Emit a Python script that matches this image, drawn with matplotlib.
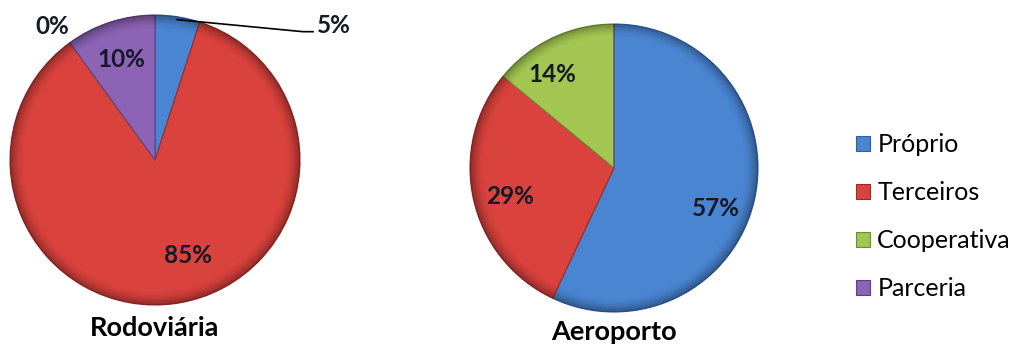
import matplotlib.pyplot as plt
import numpy as np
from matplotlib.patches import Circle

plt.rcParams['font.family'] = ['Lato', 'DejaVu Sans']

categories = ['Próprio', 'Terceiros', 'Cooperativa', 'Parceria']
colors = ['#4a85d2', '#da423d', '#a3c653', '#8d63b5']
edge_colors = ['#2f5f9e', '#9e2a27', '#6f8c32', '#5f3f80']

rodoviaria = [5, 85, 0, 10]
aeroporto = [57, 29, 14, 0]

W, H = 1013, 344
fig = plt.figure(figsize=(W / 100, H / 100), dpi=100)


def pie_axes(cx, cy, r):
    # axes whose data units are one pie radius, placed by pixel centre
    ax = fig.add_axes([(cx - r) / W, (H - cy - r) / H, 2 * r / W, 2 * r / H])
    ax.axis('off')
    return ax


def draw_pie(ax, values, label_pos):
    wedges, _ = ax.pie(values, colors=colors, startangle=90, counterclock=False,
                       radius=1, wedgeprops=dict(linewidth=0.8))
    for w, ec in zip(wedges, edge_colors):
        w.set_edgecolor(ec)
    # darker rim for the bevelled look
    n = 400
    xx, yy = np.meshgrid(np.linspace(-1, 1, n), np.linspace(-1, 1, n))
    rr = np.hypot(xx, yy)
    shade = np.zeros((n, n, 4))
    shade[..., 3] = np.clip((rr - 0.9) / 0.1, 0, 1) ** 1.8 * 0.35
    im = ax.imshow(shade, extent=(-1, 1, -1, 1), origin='lower', zorder=3,
                   interpolation='bilinear')
    im.set_clip_path(Circle((0, 0), 1, transform=ax.transData))
    ax.set_xlim(-1, 1)
    ax.set_ylim(-1, 1)
    ax.set_aspect('equal')
    for v, pos in zip(values, label_pos):
        if pos is None:
            continue
        ax.text(pos[0], pos[1], f'{v}%', ha='center', va='center',
                fontsize=17.5, fontweight='bold', color='#131a26', zorder=5,
                clip_on=False)


# label positions in pie-radius units
rod_labels = [(1.23, 0.93), (0.23, -0.66), (-0.71, 0.92), (-0.23, 0.69)]
aer_labels = [(0.71, -0.28), (-0.72, -0.2), (-0.43, 0.65), None]

ax1 = pie_axes(155, 160, 145)
draw_pie(ax1, rodoviaria, rod_labels)
# leader line for the small slice
a = np.deg2rad(90 - 360 * rodoviaria[0] / 100 / 2)
ax1.plot([np.cos(a) * 0.98, 1.02, 1.09], [np.sin(a) * 0.98, 0.885, 0.885],
         color='black', lw=1.2, zorder=6, clip_on=False)
ax1.text(0, -1.16, 'Rodoviária', ha='center', va='center', fontsize=19.5,
         fontweight='bold', color='black', clip_on=False)

ax2 = pie_axes(614, 168, 144)
draw_pie(ax2, aeroporto, aer_labels)
ax2.text(0, -1.14, 'Aeroporto', ha='center', va='center', fontsize=19.5,
         fontweight='bold', color='black', clip_on=False)

# legend
handles = [plt.Rectangle((0, 0), 1, 1, facecolor=c, edgecolor=e, lw=0.8)
           for c, e in zip(colors, edge_colors)]
fig.legend(handles, categories, loc='center left', bbox_to_anchor=(856 / W, 1 - 217 / H),
           frameon=False, fontsize=18, handlelength=0.55, handleheight=0.55,
           handletextpad=0.3, labelspacing=1.0, borderpad=0, borderaxespad=0)

fig.savefig('out.png', dpi=100)
